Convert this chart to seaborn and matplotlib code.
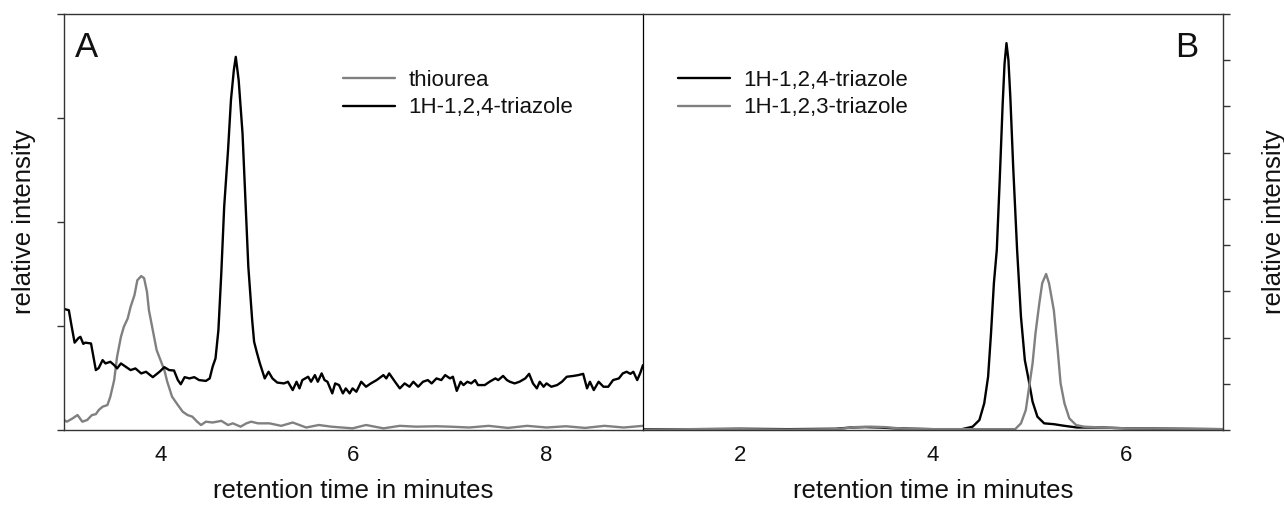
import matplotlib
matplotlib.use("Agg")
import matplotlib.pyplot as plt
import seaborn as sns
import pandas as pd

sns.set_style("white")
plt.rcParams['font.family'] = ['Liberation Sans', 'DejaVu Sans']

# ---------------- Panel A data ----------------
xA_triazole = [3.00, 3.05, 3.08, 3.11, 3.15, 3.17, 3.20, 3.22, 3.28, 3.33, 3.36, 3.40, 3.43, 3.48,
               3.52, 3.55, 3.59, 3.64, 3.69, 3.74, 3.80, 3.85, 3.92, 3.99, 4.04, 4.09, 4.14, 4.18,
               4.21, 4.25, 4.30, 4.35, 4.40, 4.47, 4.51, 4.54, 4.57, 4.60, 4.63, 4.66, 4.70, 4.73,
               4.76, 4.78, 4.81, 4.85, 4.88, 4.91, 4.95, 4.97, 5.00, 5.03, 5.08, 5.12, 5.16, 5.21,
               5.28, 5.32, 5.37, 5.41, 5.44, 5.47, 5.53, 5.56, 5.60, 5.63, 5.67, 5.70, 5.73, 5.78,
               5.81, 5.85, 5.89, 5.92, 5.96, 5.99, 6.03, 6.08, 6.13, 6.18, 6.24, 6.31, 6.34, 6.37,
               6.43, 6.48, 6.53, 6.58, 6.62, 6.67, 6.72, 6.77, 6.81, 6.86, 6.91, 6.95, 7.00, 7.03,
               7.07, 7.11, 7.14, 7.18, 7.22, 7.26, 7.29, 7.36, 7.41, 7.47, 7.50, 7.55, 7.59, 7.62,
               7.67, 7.72, 7.78, 7.82, 7.86, 7.90, 7.93, 7.97, 8.00, 8.05, 8.11, 8.16, 8.21, 8.28,
               8.33, 8.38, 8.42, 8.45, 8.49, 8.54, 8.59, 8.64, 8.69, 8.75, 8.79, 8.83, 8.87, 8.90,
               8.94, 8.97, 9.00]
yA_triazole = [0.291, 0.288, 0.248, 0.210, 0.221, 0.224, 0.207, 0.210, 0.208, 0.144, 0.149, 0.168, 0.160, 0.164,
               0.156, 0.148, 0.160, 0.152, 0.144, 0.148, 0.136, 0.140, 0.127, 0.140, 0.151, 0.144, 0.143, 0.120,
               0.110, 0.127, 0.124, 0.127, 0.120, 0.118, 0.124, 0.152, 0.172, 0.240, 0.377, 0.537, 0.673, 0.793,
               0.865, 0.897, 0.841, 0.713, 0.553, 0.393, 0.264, 0.212, 0.185, 0.160, 0.124, 0.140, 0.124, 0.114,
               0.112, 0.116, 0.096, 0.116, 0.100, 0.120, 0.128, 0.116, 0.132, 0.116, 0.136, 0.120, 0.116, 0.088,
               0.112, 0.108, 0.088, 0.100, 0.088, 0.100, 0.092, 0.116, 0.104, 0.112, 0.120, 0.132, 0.124, 0.136,
               0.116, 0.100, 0.112, 0.104, 0.116, 0.104, 0.116, 0.120, 0.112, 0.124, 0.120, 0.132, 0.124, 0.128,
               0.094, 0.116, 0.108, 0.116, 0.112, 0.120, 0.108, 0.108, 0.116, 0.124, 0.120, 0.130, 0.120, 0.116,
               0.112, 0.116, 0.124, 0.135, 0.112, 0.100, 0.116, 0.104, 0.112, 0.104, 0.108, 0.116, 0.128, 0.130,
               0.132, 0.135, 0.100, 0.116, 0.096, 0.116, 0.104, 0.104, 0.120, 0.124, 0.136, 0.140, 0.135, 0.140,
               0.120, 0.136, 0.156]

xA_thiourea = [3.00, 3.03, 3.09, 3.14, 3.19, 3.24, 3.29, 3.33, 3.36, 3.40, 3.45, 3.48, 3.52, 3.55,
               3.59, 3.62, 3.66, 3.69, 3.73, 3.76, 3.80, 3.83, 3.86, 3.88, 3.92, 3.96, 4.00, 4.04,
               4.07, 4.12, 4.18, 4.23, 4.28, 4.33, 4.38, 4.42, 4.47, 4.54, 4.63, 4.70, 4.75, 4.83,
               4.89, 4.94, 5.01, 5.13, 5.25, 5.37, 5.51, 5.64, 5.77, 5.99, 6.13, 6.31, 6.48, 6.65,
               6.86, 7.00, 7.20, 7.40, 7.60, 7.80, 8.00, 8.20, 8.40, 8.60, 8.80, 9.00]
yA_thiourea = [0.024, 0.020, 0.028, 0.036, 0.020, 0.024, 0.036, 0.038, 0.048, 0.056, 0.060, 0.080, 0.120, 0.176,
               0.224, 0.248, 0.268, 0.296, 0.324, 0.360, 0.370, 0.365, 0.332, 0.288, 0.240, 0.192, 0.168, 0.144,
               0.116, 0.080, 0.060, 0.044, 0.036, 0.032, 0.020, 0.012, 0.020, 0.018, 0.022, 0.012, 0.016, 0.008,
               0.016, 0.020, 0.016, 0.016, 0.010, 0.018, 0.006, 0.012, 0.008, 0.004, 0.012, 0.004, 0.010, 0.008,
               0.009, 0.008, 0.006, 0.010, 0.005, 0.010, 0.006, 0.009, 0.005, 0.010, 0.006, 0.010]

# ---------------- Panel B data ----------------
xB_124 = [1.00, 1.50, 2.00, 2.50, 3.00, 3.15, 3.30, 3.45, 3.60, 4.00, 4.30, 4.41, 4.48, 4.53, 4.57,
          4.60, 4.63, 4.66, 4.69, 4.72, 4.74, 4.76, 4.78, 4.80, 4.83, 4.87, 4.91, 4.95, 4.99, 5.03,
          5.08, 5.15, 5.25, 5.36, 5.49, 5.74, 6.00, 6.50, 7.00]
yB_124 = [0.002, 0.002, 0.003, 0.002, 0.003, 0.006, 0.007, 0.006, 0.004, 0.002, 0.002, 0.008, 0.024, 0.064, 0.128,
          0.232, 0.353, 0.433, 0.600, 0.780, 0.880, 0.930, 0.890, 0.800, 0.630, 0.433, 0.272, 0.168, 0.120, 0.068,
          0.032, 0.016, 0.014, 0.010, 0.006, 0.006, 0.004, 0.003, 0.002]

xB_123 = [1.00, 1.50, 2.00, 2.50, 3.00, 3.20, 3.35, 3.50, 3.70, 4.00, 4.50, 4.85, 4.91, 4.96, 4.99,
          5.03, 5.06, 5.10, 5.13, 5.17, 5.20, 5.25, 5.29, 5.32, 5.36, 5.41, 5.48, 5.56, 5.74, 6.00,
          6.50, 7.00]
yB_123 = [0.001, 0.002, 0.002, 0.001, 0.002, 0.007, 0.008, 0.007, 0.003, 0.002, 0.002, 0.002, 0.016, 0.048, 0.096,
          0.160, 0.232, 0.305, 0.353, 0.375, 0.353, 0.288, 0.192, 0.112, 0.064, 0.028, 0.012, 0.008, 0.006, 0.004,
          0.003, 0.002]

labels_A = ["thiourea", "1H-1,2,4-triazole"]
labels_B = ["1H-1,2,4-triazole", "1H-1,2,3-triazole"]
xticks_A = [4, 6, 8]
xticks_B = [2, 4, 6]

BLACK = "#000000"
GRAY = "#808080"
LW = 1.7

fig = plt.figure(figsize=(12.84, 5.15), dpi=100)
axA = fig.add_axes([64 / 1284, 85 / 515, (643 - 64) / 1284, 416 / 515])
axB = fig.add_axes([643 / 1284, 85 / 515, (1223 - 643) / 1284, 416 / 515])

sns.lineplot(x=xA_thiourea, y=yA_thiourea, ax=axA, color=GRAY, lw=LW, label=labels_A[0],
             estimator=None, sort=False)
sns.lineplot(x=xA_triazole, y=yA_triazole, ax=axA, color=BLACK, lw=LW, label=labels_A[1],
             estimator=None, sort=False)
sns.lineplot(x=xB_124, y=yB_124, ax=axB, color=BLACK, lw=LW, label=labels_B[0],
             estimator=None, sort=False)
sns.lineplot(x=xB_123, y=yB_123, ax=axB, color=GRAY, lw=LW, label=labels_B[1],
             estimator=None, sort=False)

for ax in (axA, axB):
    ax.set_ylim(0, 1)
    ax.set_facecolor("white")
    for s in ax.spines.values():
        s.set_color("#333333")
        s.set_linewidth(1.0)

axA.set_xlim(3, 9)
axB.set_xlim(1, 7)
axA.set_xticks(xticks_A)
axB.set_xticks(xticks_B)

axA.set_yticks([0, 0.25, 0.5, 0.75, 1.0])
axA.set_yticklabels([])
axA.spines['right'].set_visible(False)
axB.spines['left'].set_color("#000000")
axB.spines['left'].set_linewidth(0.9)
axB.set_yticks([i / 9 for i in range(10)])
axB.yaxis.tick_right()
axB.set_yticklabels([])

for ax in (axA, axB):
    ax.tick_params(axis='both', which='both', direction='out', length=5, width=1.0,
                   color="#333333", labelsize=16, labelcolor="#111111", pad=6)
axA.tick_params(axis='y', left=True, right=False, pad=0)
axB.tick_params(axis='y', left=False, right=True, pad=0)

FS_LAB = 18.5
axA.set_xlabel("retention time in minutes", fontsize=FS_LAB, labelpad=9, color="#111111")
axB.set_xlabel("retention time in minutes", fontsize=FS_LAB, labelpad=9, color="#111111")
axA.set_ylabel("relative intensity", fontsize=FS_LAB, labelpad=15.5, color="#111111")
axB.yaxis.set_label_position("right")
axB.set_ylabel("relative intensity", fontsize=FS_LAB, labelpad=23, color="#111111")

axA.text(0.019, 0.958, "A", transform=axA.transAxes, fontsize=25, ha='left', va='top', color="#111111")
axB.text(0.958, 0.958, "B", transform=axB.transAxes, fontsize=25, ha='right', va='top', color="#111111")

for ax, anchor in ((axA, (0.482, 0.866)), (axB, (0.060, 0.866))):
    leg = ax.legend(loc='upper left', bbox_to_anchor=anchor, frameon=False, fontsize=16,
                    handlelength=2.35, handletextpad=0.58, labelspacing=0.3, borderaxespad=0,
                    borderpad=0)
    for t in leg.get_texts():
        t.set_color("#111111")

fig.savefig("out.png", dpi=100, facecolor="white")
